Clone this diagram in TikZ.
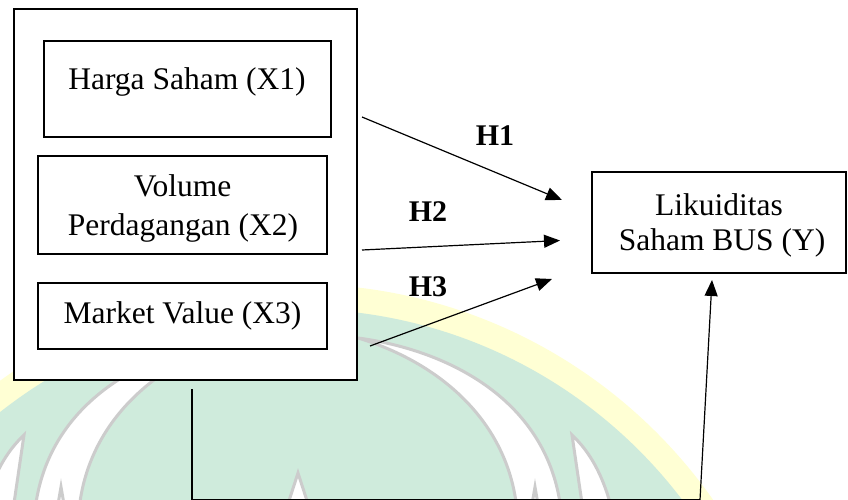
\documentclass[tikz,border=0pt]{standalone}
\usepackage{fontspec}
\setmainfont{Liberation Serif}
\usetikzlibrary{arrows.meta}
\definecolor{wmgreen}{HTML}{CFEBDC}
\definecolor{wmyellow}{HTML}{FFFFD4}
\definecolor{wmgrey}{HTML}{CCCCCC}
\begin{document}
\begin{tikzpicture}[x=1pt,y=-1pt,
  box/.style={draw,line width=2.5pt,fill=white,inner sep=0pt},
  lbl/.style={anchor=base,inner sep=0pt,font=\fontsize{31.5}{38}\selectfont},
  hlbl/.style={anchor=base,inner sep=0pt,font=\fontsize{30}{36}\selectfont\bfseries},
  conn/.style={line width=1.2pt},
  arr/.style={conn,-{Triangle[length=16pt,width=13pt]}},
  wm/.style={draw=wmgrey,line width=3pt,fill=white,line join=miter}]
\useasboundingbox (0,0) rectangle (848,500);
% watermark
\begin{scope}
  \clip (0,0) rectangle (848,500);
  \fill[wmyellow] (298,791) circle[radius=507];
  \fill[wmgreen] (298,791) circle[radius=482];
  \foreach \s in {1,-1}{
    \begin{scope}[shift={(298,0)},xscale=\s]
      \path[wm] (60,338) .. controls (150,350) and (250,400) .. (263,510)
                -- (219,510) .. controls (210,420) and (140,362) .. cycle;
      \path[wm] (274,435) -- (285,510) -- (314,510) .. controls (305,475) and (292,452) .. cycle;
      \path[wm] (237,487) -- (233,510) -- (241,510) -- cycle;
    \end{scope}
  }
  \path[wm] (298,473) -- (286,510) -- (310,510) -- cycle;
\end{scope}
% boxes
\node[box,minimum width=343pt,minimum height=371pt] (outer) at (185.5,194.5) {};
\node[box,minimum width=287pt,minimum height=96pt] (x1) at (187.5,89) {};
\node[box,minimum width=289pt,minimum height=98pt] (x2) at (182.5,205) {};
\node[box,minimum width=289pt,minimum height=66pt] (x3) at (182.5,316) {};
\node[box,minimum width=254pt,minimum height=101pt] (y) at (719,222.5) {};
% texts
\node[lbl] (t1) at (187,89.3) {Harga Saham (X1)};
\node[lbl] (t2a) at (182.5,196) {Volume};
\node[lbl] (t2b) at (183,235.5) {Perdagangan (X2)};
\node[lbl] (t3) at (182.5,323.3) {Market Value (X3)};
\node[lbl] (ty1) at (719,215) {Likuiditas};
\node[lbl] (ty2) at (722,250.5) {Saham BUS (Y)};
\node[hlbl] (h1) at (495,145) {H1};
\node[hlbl] (h2) at (428,221.5) {H2};
\node[hlbl] (h3) at (428,296.5) {H3};
% connector points
\coordinate (s1) at (362,117);
\coordinate (e1) at (562,200);
\coordinate (s2) at (362,250);
\coordinate (e2) at (560,240.5);
\coordinate (s3) at (370,346);
\coordinate (e3) at (552,279);
\coordinate (b0) at (192,389);
\coordinate (b1) at (192,499.8);
\coordinate (b2) at (700,499.8);
\coordinate (e4) at (712,280);
\draw[arr] (s1) -- (e1);
\draw[arr] (s2) -- (e2);
\draw[arr] (s3) -- (e3);
\draw[conn] (b0) -- (b1) -- (b2);
\draw[arr] (b2) -- (e4);
\end{tikzpicture}
\end{document}
